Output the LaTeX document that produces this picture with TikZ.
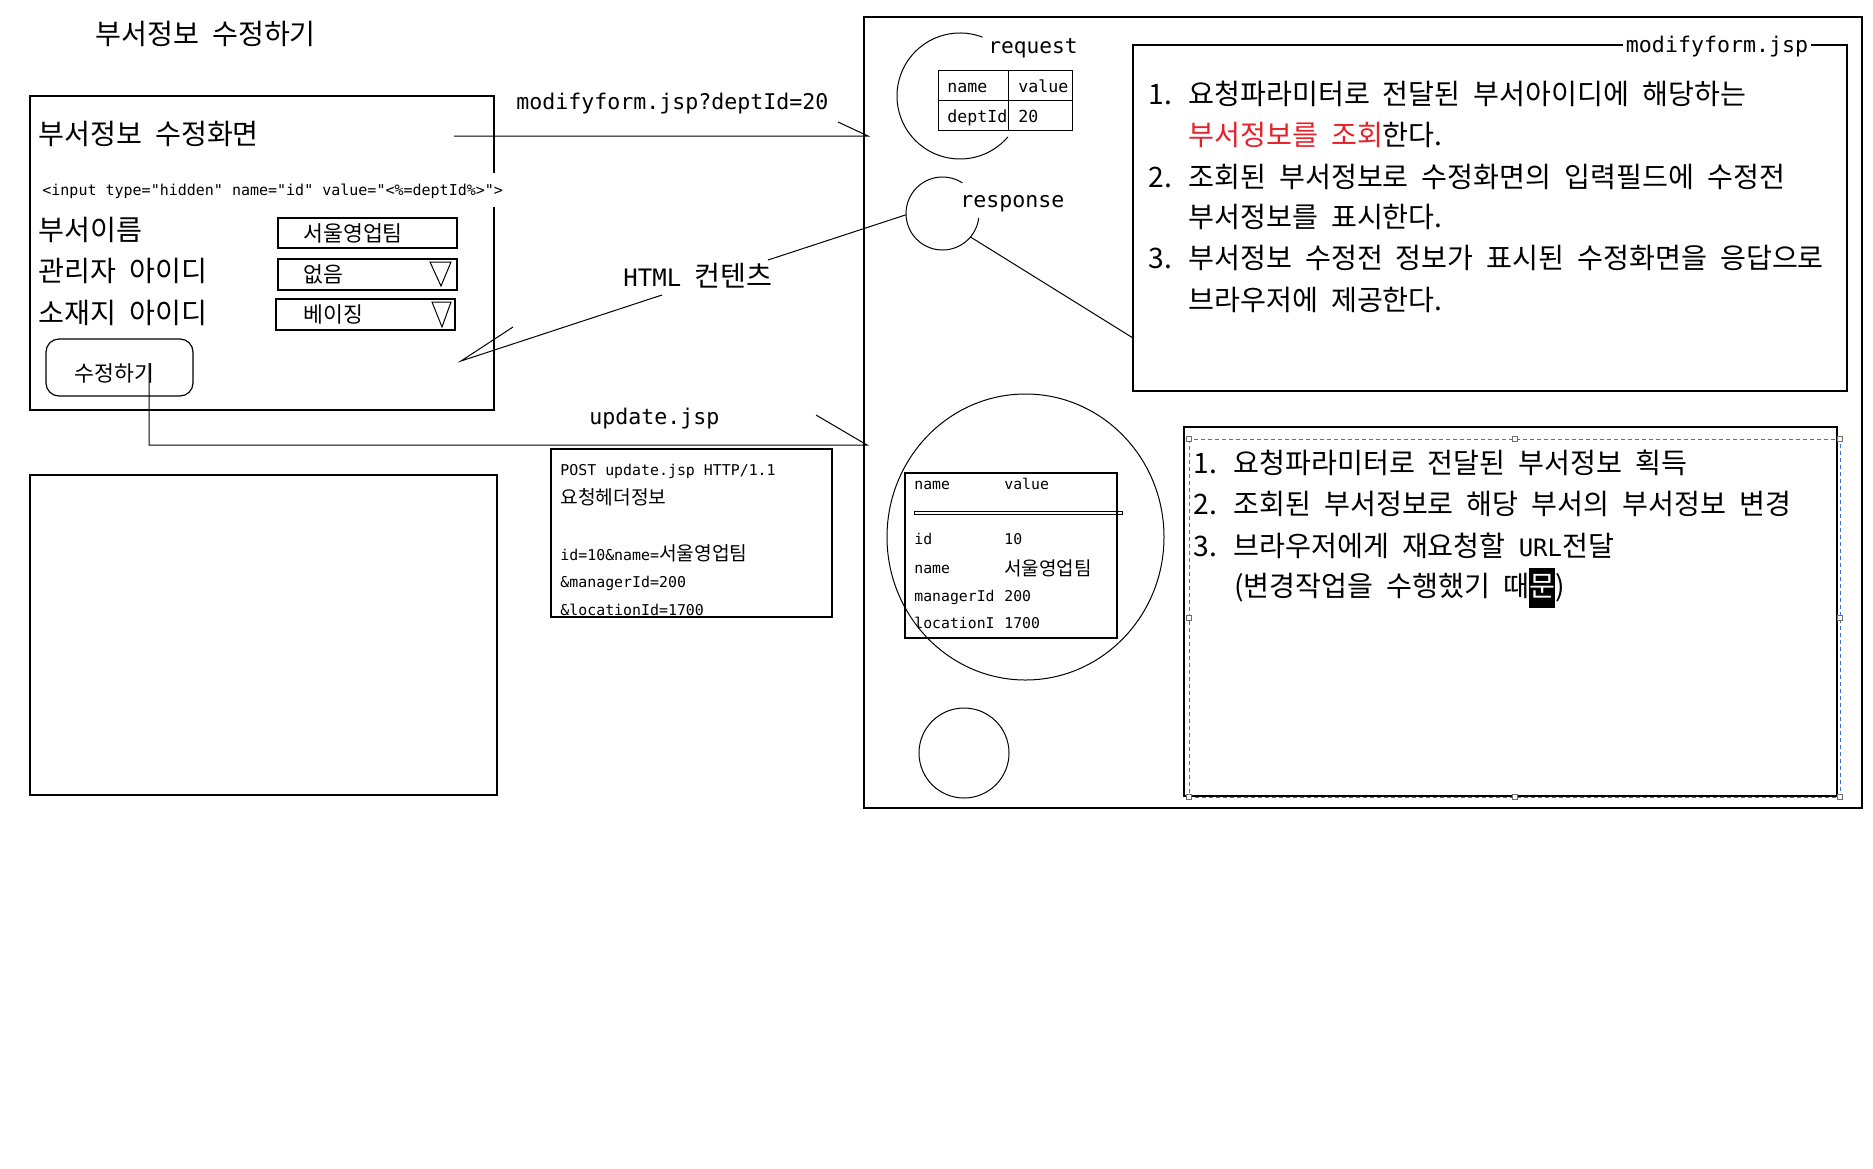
\documentclass[tikz,border=0pt]{standalone}
\usepackage{fontspec}
\setmainfont{Noto Sans CJK KR}[WordSpace=2.05]
\newfontfamily\monofont{DejaVu Sans Mono}
\usetikzlibrary{calc,fit}
\definecolor{hlred}{HTML}{E8202A}
\definecolor{selblue}{HTML}{3A6FD8}
\definecolor{handle}{HTML}{6E6E6E}
\newcommand\itemno[1]{\makebox[20pt][l]{#1}}
\newcommand\latin[2]{{\monofont\fontsize{#1}{#1}\selectfont #2}}
\newcommand\hlchar[1]{{\setlength\fboxsep{0pt}\colorbox{black}{\rule[-5.5pt]{0pt}{20pt}\textcolor{white}{#1}}}}

\begin{document}
\begin{tikzpicture}[x=0.5pt,y=-0.5pt,
  box/.style={draw,line width=0.6pt,inner sep=0pt},
  thin/.style={line width=0.5pt},
  ko/.style={anchor=west,inner sep=0pt,font=\fontsize{#1}{#1}\selectfont,text height=#1*0.88pt,text depth=#1*0.06pt},
  mono/.style={ko=#1,font=\monofont\fontsize{#1}{#1}\selectfont,text height=#1*0.8pt,text depth=#1*0.1pt},
  grip/.style={draw=handle,fill=white,line width=0.3pt}]
\fill[white] (0,0) rectangle (1873,1168);
\useasboundingbox (0,0) rectangle (1873,1168);

\node[ko=14.1] (title) at (95,33) {부서정보 수정하기};
\node[box,fit={(30,96) (494,410)}] (form) {};
\node[ko=14.1] (formhead) at (38,133) {부서정보 수정화면};
\node[mono=7.5,fill=white,inner xsep=1pt,inner ysep=5pt] (hidden) at (40,190) {<input type="hidden" name="id" value="<\%=deptId\%>">};
\node[ko=14.1] (lname) at (38,229) {부서이름};
\node[ko=14.1] (lmgr) at (38,270) {관리자 아이디};
\node[ko=14.1] (lloc) at (38,312) {소재지 아이디};
\node[box,fit={(278,218) (457,248)}] (fname) {};
\node[box,fit={(278,259) (457,290)}] (fmgr) {};
\node[box,fit={(276,299) (455,330)}] (floc) {};
\node[ko=10.8] (vname) at (303,233) {서울영업팀};
\node[ko=10.8] (vmgr) at (303,274) {없음};
\node[ko=10.8] (vloc) at (303,314) {베이징};
\draw[thin] (430,262) -- (451,262) -- (441,286) -- cycle;
\draw[thin] (432,302) -- (451,302) -- (442,327) -- cycle;
\node[box,rounded corners=6.5pt,fit={(46,339) (193,396)}] (btn) {};
\node[ko=10.8] (btnlbl) at (74,373) {수정하기};
\node[box,fit={(30,475) (497,795)}] (preview) {};

\coordinate (reqfrom) at (454,136); \coordinate (reqto) at (868,136); \coordinate (reqtick) at (838,122);
\draw[thin] (reqfrom) -- (reqto) -- (reqtick);
\node[mono=10.8] (requrl) at (516,102) {modifyform.jsp?deptId=20};
\node[ko=14.1] (html) at (623,275) {\latin{12}{HTML} 컨텐츠};
\coordinate (htmlA) at (768,260); \coordinate (htmlB) at (662,295);
\coordinate (htmltip) at (461,361); \coordinate (htmlC) at (513,327);
\draw[thin] (htmlB) -- (htmltip) -- (htmlC);
\node[mono=10.8] (updurl) at (589,417) {update.jsp};
\coordinate (updfrom) at (149,363); \coordinate (updto) at (867,445); \coordinate (updtick) at (816,415);
\draw[thin] (updfrom) |- (updto) -- (updtick);

\node[box,fit={(551,449) (832,617)}] (post) {};
\node[mono=7.45] (post1) at (560,470) {POST update.jsp HTTP/1.1};
\node[ko=9.6] (post2) at (560,497) {요청헤더정보};
\node[ko=9.6] (post3) at (560,553) {\latin{7.45}{id=10\&name=}서울영업팀};
\node[mono=7.45] (post4) at (560,582) {\&managerId=200};
\node[mono=7.45] (post5) at (560,610) {\&locationId=1700};

\node[box,fit={(864,17) (1862,808)}] (server) {};
\coordinate (req) at (960,96);
\draw[thin] ($(req)+(-69:63)$) arc[start angle=-69,end angle=-319.5,radius=63];
\node[mono=10.6] (reqlbl) at (988,46) {request};
\node[box,line width=0.5pt,fit={(938,70) (1072,130)}] (reqtab) {};
\draw[thin] (1008,70) -- (1008,130) (938,100) -- (1072,100);
\foreach \x/\y/\v in {947/87/name,1018/87/value,947/117/deptId,1018/117/20}
  \node[mono=8.3] (req-\v) at (\x,\y) {\v};

\coordinate (resp) at (942.5,213.5);
\draw[thin] ($(resp)+(-57:36.5)$) arc[start angle=-57,end angle=-353,radius=36.5];
\node[mono=10.8] (resplbl) at (960,200) {response};
\coordinate (mfin) at (1133,338);
\draw[thin] (htmlA) -- ($(resp)+(178:36.5)$);
\draw[thin] ($(resp)+(40:36.5)$) -- (mfin);

\node[box,fit={(1133,45) (1847,391)}] (mf) {};
\node[mono=10.8,anchor=center,fill=white,inner xsep=1.5pt] (mflbl) at (1717,45) {modifyform.jsp};
\foreach \y/\x/\lbl in {93/1148/{\itemno{1.}요청파라미터로 전달된 부서아이디에 해당하는},
  134/1188/{\textcolor{hlred}{부서정보를 조회}한다.},
  176/1148/{\itemno{2.}조회된 부서정보로 수정화면의 입력필드에 수정전},
  216/1188/{부서정보를 표시한다.},
  257/1148/{\itemno{3.}부서정보 수정전 정보가 표시된 수정화면을 응답으로},
  299/1188/{브라우저에 제공한다.}}
  \node[ko=14.1] (mf\y) at (\x,\y) {\lbl};

\coordinate (store) at (1025.5,537);
\draw[thin] (store) ellipse[x radius=138.5,y radius=143];
\node[box,fit={(905,473) (1117,638)}] (ptab) {};
\draw[thin] (914,511) rectangle (1122,514);
\foreach \y/\k/\v in {484/name/value,539/id/10,596/managerId/200,623/locationI/1700}{
  \node[mono=7.4] (pk\y) at (914,\y) {\k};
  \node[mono=7.4] (pv\y) at (1004,\y) {\v};}
\node[mono=7.4] (pk568) at (914,568) {name};
\node[ko=9.5] (pv568) at (1004,568) {서울영업팀};
\draw[thin] (964,753) circle[radius=45];

\node[box,fit={(1184,427) (1837,796)}] (result) {};
\draw[selblue,line width=0.5pt,dash pattern=on 2pt off 1.5pt] (1189,439) rectangle (1840,797);
\foreach \px/\py in {1189/439,1514.5/439,1840/439,1189/618,1840/618,1189/797,1514.5/797,1840/797}
  \draw[grip] (\px,\py) ++(-2.5,-2.5) rectangle ++(5,5);
\foreach \y/\x/\lbl in {462/1193/{\itemno{1.}요청파라미터로 전달된 부서정보 획득},
  503/1193/{\itemno{2.}조회된 부서정보로 해당 부서의 부서정보 변경},
  545/1193/{\itemno{3.}브라우저에게 재요청할 \latin{12}{URL}전달},
  585/1234/{(변경작업을 수행했기 때\hlchar{문})}}
  \node[ko=14.1] (res\y) at (\x,\y) {\lbl};
\end{tikzpicture}
\end{document}
